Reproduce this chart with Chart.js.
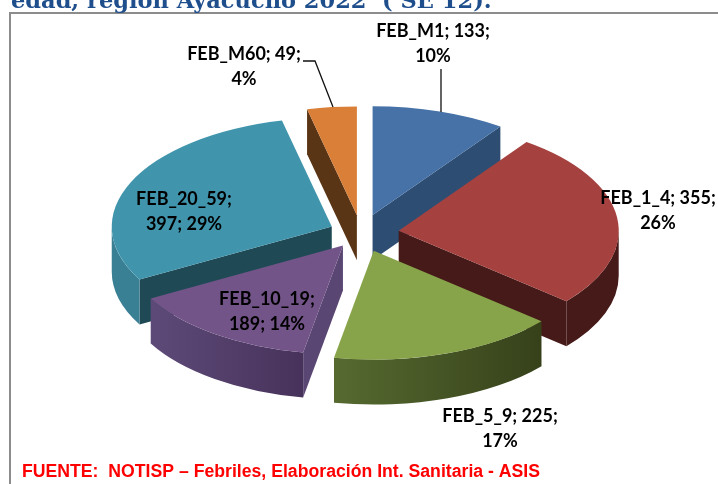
<!DOCTYPE html>
<html>
<head>
<meta charset="utf-8">
<title>Febriles por grupo de edad</title>
<script src="https://cdn.jsdelivr.net/npm/chart.js@4"></script>
<style>
  html, body { margin: 0; padding: 0; background: #fff; overflow: hidden; }
  canvas { display: block; }
</style>
</head>
<body>
<canvas id="pie" width="718" height="484"></canvas>
<script>
const categories = ['FEB_M1', 'FEB_1_4', 'FEB_5_9', 'FEB_10_19', 'FEB_20_59', 'FEB_M60'];
const values = [133, 355, 225, 189, 397, 49];
const topColors = ['#4672a8', '#a5423f', '#88a44a', '#735489', '#4095ad', '#d97f38'];
const radialWallColors = ['#2d4d73', '#451a18', '#3a451c', '#5a4672', '#1f4a55', '#5a3515'];
const rimWallLeft = ['#2d4d73', '#451a18', '#566a30', '#5e4a78', '#3a8095', '#5a3515'];
const rimWallRight = ['#2d4d73', '#451a18', '#36411a', '#46325a', '#3a8095', '#5a3515'];
const explodeBy = [38, 38, 38, 31, 32, 36];

const titleText = 'edad, región Ayacucho 2022  ( SE 12).';
const sourceText = 'FUENTE:  NOTISP – Febriles, Elaboración Int. Sanitaria - ASIS';

const Y_SCALE = 0.495;
const DEPTH = 45;

function pct(i) {
    const total = values.reduce((a, b) => a + b, 0);
    return Math.round(values[i] / total * 100) + '%';
}

function labelLines(i) {
    // the two long names wrap earlier in the original
    if (categories[i] === 'FEB_10_19' || categories[i] === 'FEB_20_59') {
        return [categories[i] + ';', values[i] + '; ' + pct(i)];
    }
    return [categories[i] + '; ' + values[i] + ';', pct(i)];
}

const labelPos = [
    { x: 433, y: 31 },
    { x: 658, y: 198 },
    { x: 500, y: 416 },
    { x: 267, y: 299 },
    { x: 184, y: 199 },
    { x: 244, y: 54 }
];

function drawWalls(ctx, el, i) {
    const { x, y, startAngle: a1, endAngle: a2, outerRadius: r } = el;
    const d = DEPTH / Y_SCALE;

    ctx.fillStyle = radialWallColors[i];
    [[a1, Math.sin(a1 + Math.PI / 2) < 0], [a2, Math.sin(a2 + Math.PI / 2) > 0]].forEach(([a, visible]) => {
        if (!visible) return;
        ctx.beginPath();
        ctx.moveTo(x, y);
        ctx.lineTo(x + r * Math.cos(a), y + r * Math.sin(a));
        ctx.lineTo(x + r * Math.cos(a), y + r * Math.sin(a) + d);
        ctx.lineTo(x, y + d);
        ctx.closePath();
        ctx.fill();
    });

    const s = Math.max(a1, 0);
    const e = Math.min(a2, Math.PI);
    if (e > s) {
        const xs = x + r * Math.cos(s);
        const xe = x + r * Math.cos(e);
        const grad = ctx.createLinearGradient(xe, 0, xs, 0);
        grad.addColorStop(0, rimWallLeft[i]);
        grad.addColorStop(1, rimWallRight[i]);
        ctx.fillStyle = grad;
        ctx.beginPath();
        ctx.arc(x, y, r, s, e);
        ctx.arc(x, y + d, r, e, s, true);
        ctx.closePath();
        ctx.fill();
    }
}

const pie3d = {
    id: 'pie3d',
    beforeDraw(chart) {
        const ctx = chart.ctx;
        ctx.save();
        ctx.fillStyle = '#fff';
        ctx.fillRect(0, 0, chart.width, chart.height);
        ctx.strokeStyle = '#8c8c8c';
        ctx.lineWidth = 2;
        ctx.beginPath();
        ctx.moveTo(10, 484);
        ctx.lineTo(10, 13);
        ctx.lineTo(718, 13);
        ctx.stroke();
        ctx.restore();
    },
    beforeDatasetDraw(chart) {
        const ctx = chart.ctx;
        const arcs = chart.getDatasetMeta(0).data;
        const mid = el => (el.startAngle + el.endAngle) / 2;
        // back slices first so the front ones cover them
        const order = arcs.map((el, i) => i).sort((a, b) => Math.sin(mid(arcs[a])) - Math.sin(mid(arcs[b])));
        order.forEach(i => {
            const el = arcs[i];
            ctx.save();
            ctx.translate(el.x, el.y);
            ctx.scale(1, Y_SCALE);
            ctx.translate(-el.x, -el.y);
            ctx.translate(Math.cos(mid(el)) * explodeBy[i], Math.sin(mid(el)) * explodeBy[i]);
            drawWalls(ctx, el, i);
            el.draw(ctx);
            ctx.restore();
        });
        return false;
    },
    afterDraw(chart) {
        const ctx = chart.ctx;
        ctx.save();

        ctx.strokeStyle = '#111';
        ctx.lineWidth = 1.3;
        ctx.beginPath();
        ctx.moveTo(441, 69);
        ctx.lineTo(441, 112);
        ctx.moveTo(303, 61);
        ctx.lineTo(315, 61);
        ctx.lineTo(333, 107);
        ctx.stroke();

        ctx.fillStyle = '#000';
        ctx.font = 'bold 18px Lato';
        ctx.textAlign = 'center';
        ctx.textBaseline = 'middle';
        categories.forEach((c, i) => {
            labelLines(i).forEach((line, k) => {
                ctx.fillText(line, labelPos[i].x, labelPos[i].y + k * 25.5);
            });
        });

        ctx.textAlign = 'left';
        ctx.textBaseline = 'alphabetic';
        ctx.fillStyle = '#1f4e8c';
        ctx.font = 'bold 22.5px "DejaVu Serif"';
        ctx.fillText(titleText, 11, 8, 482);

        ctx.fillStyle = '#ff0000';
        ctx.font = 'bold 18px "Liberation Sans"';
        ctx.fillText(sourceText, 22, 477, 518);
        ctx.restore();
    }
};

new Chart(document.getElementById('pie'), {
    type: 'pie',
    data: {
        labels: categories,
        datasets: [{
            data: values,
            backgroundColor: topColors,
            borderWidth: 0
        }]
    },
    options: {
        responsive: false,
        animation: false,
        radius: 220,
        layout: { padding: { left: 4, bottom: 18 } },
        plugins: {
            legend: { display: false },
            title: { display: false },
            tooltip: { enabled: false }
        }
    },
    plugins: [pie3d]
});
</script>
</body>
</html>
